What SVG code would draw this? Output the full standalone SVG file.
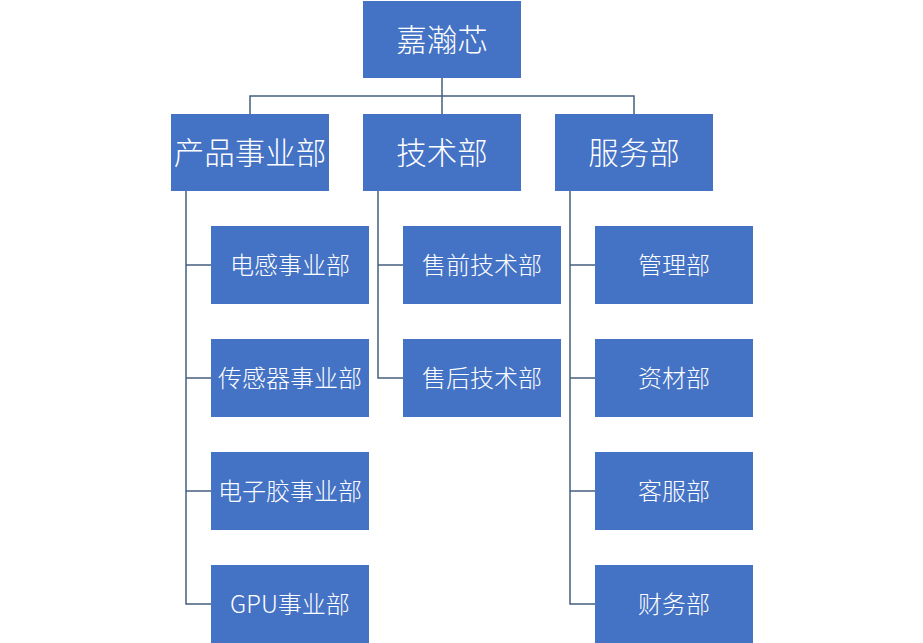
<svg xmlns="http://www.w3.org/2000/svg" width="923" height="643" viewBox="0 0 923 643">
<style>
.box{fill:#4472C4;}
.t{fill:#fff;font-family:"Noto Sans CJK SC","Noto Sans",sans-serif;text-anchor:middle;dominant-baseline:central;font-weight:300;}
.big{font-size:30.5px;}
.small{font-size:24px;}
.ln{stroke:#44607E;stroke-width:1.5;fill:none;}
</style>
<rect width="923" height="643" fill="#fff"/>
<g id="connectors">
<path class="ln" d="M442 78V114M250 114V96H634V114"/>
<path class="ln" d="M186 191V604H211M186 265H211M186 378H211M186 491H211"/>
<path class="ln" d="M378 191V378H403M378 265H403"/>
<path class="ln" d="M570 191V604H595M570 265H595M570 378H595M570 491H595"/>
</g>
<g id="root"><rect class="box" x="363" y="1" width="158" height="77"/><text class="t big" x="442" y="37.5">嘉瀚芯</text></g>
<g id="product"><rect class="box" x="171" y="114" width="158" height="77"/><text class="t big" x="250" y="150.5">产品事业部</text></g>
<g id="tech"><rect class="box" x="363" y="114" width="158" height="77"/><text class="t big" x="442" y="150.5">技术部</text></g>
<g id="service"><rect class="box" x="555" y="114" width="158" height="77"/><text class="t big" x="634" y="150.5">服务部</text></g>
<g id="p1"><rect class="box" x="211" y="226" width="158" height="78"/><text class="t small" x="290" y="263">电感事业部</text></g>
<g id="p2"><rect class="box" x="211" y="339" width="158" height="78"/><text class="t small" x="290" y="376">传感器事业部</text></g>
<g id="p3"><rect class="box" x="211" y="452" width="158" height="78"/><text class="t small" x="290" y="489">电子胶事业部</text></g>
<g id="p4"><rect class="box" x="211" y="565" width="158" height="78"/><text class="t small" x="290" y="602">GPU事业部</text></g>
<g id="t1"><rect class="box" x="403" y="226" width="158" height="78"/><text class="t small" x="482" y="263">售前技术部</text></g>
<g id="t2"><rect class="box" x="403" y="339" width="158" height="78"/><text class="t small" x="482" y="376">售后技术部</text></g>
<g id="s1"><rect class="box" x="595" y="226" width="158" height="78"/><text class="t small" x="674" y="263">管理部</text></g>
<g id="s2"><rect class="box" x="595" y="339" width="158" height="78"/><text class="t small" x="674" y="376">资材部</text></g>
<g id="s3"><rect class="box" x="595" y="452" width="158" height="78"/><text class="t small" x="674" y="489">客服部</text></g>
<g id="s4"><rect class="box" x="595" y="565" width="158" height="78"/><text class="t small" x="674" y="602">财务部</text></g>
</svg>
